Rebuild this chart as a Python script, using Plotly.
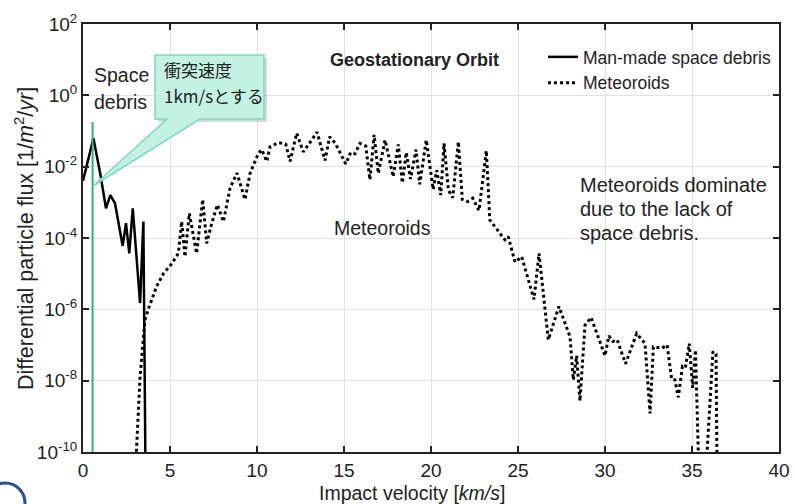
import plotly.graph_objects as go

# ---------------- data ----------------
debris_v = [0.0, 0.6, 1.0, 1.32, 1.57, 1.84, 2.28, 2.47, 2.66, 2.86, 3.28, 3.47, 3.6]
debris_flux = [4e-3, 6.3e-2, 6e-3, 6.8e-4, 1.6e-3, 9.3e-4, 6e-5, 2.6e-4, 3.7e-5, 6.8e-4, 1.5e-6, 2.9e-4, 1e-11]

meteor_v = [2.97, 3.28, 3.56, 3.75, 4.23, 4.62, 5.1, 5.48, 5.67, 5.86, 6.11, 6.53, 6.88, 7.11, 7.40,
            7.72, 8.07, 8.45, 8.85, 9.31, 9.60, 9.89, 10.07, 10.27, 10.56, 10.75, 11.23, 11.65, 11.9,
            12.28, 12.66, 12.98, 13.45, 13.91, 14.17, 14.5, 15.1, 15.38, 15.63, 15.92, 16.25, 16.49,
            16.73, 16.97, 17.36, 17.83, 18.12, 18.35, 18.58, 18.82, 19.14, 19.35, 19.73, 20.12, 20.33,
            20.56, 20.75, 21.0, 21.25, 21.57, 21.8, 22.1, 22.4, 22.76, 23.18, 23.38, 23.75, 24.25,
            24.44, 24.83, 25.21, 25.92, 26.21, 26.74, 27.35, 27.99, 28.18, 28.37, 28.56, 28.85, 29.2,
            30.0, 30.22, 30.45, 30.7, 31.18, 31.82, 32.3, 32.59, 32.78, 33.26, 33.57, 33.83, 34.02,
            34.21, 34.45, 34.62, 34.84, 35.04, 35.2, 35.42, 35.75, 36.2, 36.38, 36.45]
meteor_flux = [1e-11, 1.3e-8, 5.0e-7, 1.0e-6, 4.4e-6, 1.0e-5, 1.9e-5, 3.7e-5, 2.9e-4, 3.0e-5, 4.9e-4,
               3.7e-5, 1.2e-3, 7.1e-5, 2.6e-4, 8.5e-4, 2.9e-4, 2.5e-3, 6.6e-3, 1.2e-3, 6.5e-3, 1.4e-2,
               2.3e-2, 3.0e-2, 1.4e-2, 3.6e-2, 4.7e-2, 4.3e-2, 1.4e-2, 8.7e-2, 2.6e-2, 4.3e-2, 9.3e-2,
               1.5e-2, 6.9e-2, 4.5e-2, 1.2e-2, 2.5e-2, 2.3e-2, 4.5e-2, 3.8e-2, 4.3e-3, 7.8e-2, 6.5e-3,
               5.6e-2, 5.2e-3, 4.2e-2, 3.5e-3, 2.5e-2, 4.5e-3, 3.0e-2, 3.2e-3, 5.6e-2, 2.3e-3, 7.9e-3,
               1.6e-3, 4.5e-2, 2.2e-3, 1.35e-3, 5.0e-2, 1.2e-3, 1.05e-3, 1.3e-3, 5.9e-4, 2.8e-2, 3.2e-4,
               1.8e-4, 8.9e-5, 1.1e-4, 2.1e-5, 3.0e-5, 1.9e-6, 3.7e-5, 1.4e-7, 1.2e-6, 1.7e-7, 1.05e-8,
               5.0e-8, 2.7e-9, 3.6e-7, 5.9e-7, 5.0e-8, 1.8e-7, 1.26e-7, 1.4e-7, 3.0e-8, 2.1e-7, 1.1e-7,
               1.2e-9, 8.9e-8, 8.1e-8, 1.0e-7, 1.1e-8, 1.05e-8, 3.4e-9, 2.5e-8, 2.3e-8, 1.1e-7, 6.3e-9,
               7.2e-8, 1e-11, 1e-11, 6.5e-8, 5.6e-8, 1e-11]

impact_marker_v = 0.55   # green reference line (km/s)

x_tickvals = [0, 5, 10, 15, 20, 25, 30, 35, 40]
x_ticktext = ["0", "5", "10", "15", "20", "25", "30", "35", "40"]
y_tickvals = [1e2, 1e0, 1e-2, 1e-4, 1e-6, 1e-8, 1e-10]
y_ticktext = ["10<sup>2</sup>", "10<sup>0</sup>", "10<sup>-2</sup>", "10<sup>-4</sup>",
              "10<sup>-6</sup>", "10<sup>-8</sup>", "10<sup>-10</sup>"]

# ---------------- style ----------------
REG = "Liberation Sans, Arial, sans-serif"
CJK = "Noto Sans CJK JP, sans-serif"
TXT = "#222222"

W, H = 795, 504
PL, PR, PT, PB = 83, 16, 24, 52
PW, PH = W - PL - PR, H - PT - PB


def px(x):
    return (x - PL) / PW


def py(y):
    return (PT + PH - y) / PH


fig = go.Figure()
fig.add_trace(go.Scatter(x=debris_v, y=debris_flux, mode="lines", name="Man-made space debris",
                         line=dict(color="black", width=2.5)))
fig.add_trace(go.Scatter(x=meteor_v, y=meteor_flux, mode="lines", name="Meteoroids",
                         line=dict(color="black", width=3, dash="3px,3px")))

axis_common = dict(showgrid=True, gridcolor="#e2e2e2", gridwidth=1, showline=True,
                   linecolor="#222", linewidth=2, mirror="ticks", ticks="inside", ticklen=6,
                   tickwidth=1.5, tickcolor="#222", zeroline=False, automargin=False,
                   tickfont=dict(family=REG, size=19, color=TXT))

fig.update_layout(
    width=W, height=H, margin=dict(l=PL, r=PR, t=PT, b=PB),
    paper_bgcolor="white", plot_bgcolor="white",
    xaxis=dict(range=[0, 40], tickvals=x_tickvals, ticktext=x_ticktext, **axis_common),
    yaxis=dict(type="log", range=[-10, 2], tickvals=y_tickvals, ticktext=y_ticktext, **axis_common),
    legend=dict(x=px(543), y=py(39), xanchor="left", yanchor="top", bgcolor="rgba(0,0,0,0)",
                borderwidth=0, font=dict(family=REG, size=17.5, color=TXT), tracegroupgap=0),
    showlegend=True,
)

shapes = []
# white panel under the legend (hides grid lines there)
shapes.append(dict(type="rect", xref="paper", yref="paper", x0=px(530), x1=px(778),
                   y0=py(97), y1=py(25), fillcolor="white", line=dict(width=0), layer="between"))
# green reference line
shapes.append(dict(type="line", xref="x", yref="paper", x0=impact_marker_v, x1=impact_marker_v,
                   y0=0, y1=py(122), line=dict(color="#2db56e", width=2), layer="above"))
# callout balloon
bx0, bx1, by0, by1 = 155, 264, 55, 119
path = (f"M {px(bx0)},{py(by0)} L {px(bx1)},{py(by0)} L {px(bx1)},{py(by1)} "
        f"L {px(200)},{py(by1)} L {px(93)},{py(186)} L {px(167)},{py(by1)} "
        f"L {px(bx0)},{py(by1)} Z")
shadow = (f"M {px(bx0+3)},{py(by0+3)} L {px(bx1+3)},{py(by0+3)} L {px(bx1+3)},{py(by1+3)} "
          f"L {px(bx0+3)},{py(by1+3)} Z")
shapes.append(dict(type="path", xref="paper", yref="paper", path=shadow,
                   fillcolor="rgba(150,150,150,0.35)", line=dict(width=0), layer="above"))
shapes.append(dict(type="path", xref="paper", yref="paper", path=path,
                   fillcolor="#c3f2e3", line=dict(color="#7fd9bf", width=1.5), layer="above"))
# blue circle at bottom-left corner
shapes.append(dict(type="circle", xref="paper", yref="paper", x0=px(-15), x1=px(25),
                   y0=py(523), y1=py(483), line=dict(color="#2b4f8c", width=3)))
fig.update_layout(shapes=shapes)

ann = [
    dict(text="<b>Geostationary Orbit</b>", x=px(414), y=py(60), font=dict(family=REG, size=18)),
    dict(text="Space", x=px(92), y=py(75), xanchor="left", font=dict(family=REG, size=19.5)),
    dict(text="debris", x=px(92), y=py(102), xanchor="left", font=dict(family=REG, size=19.5)),
    dict(text="衝突速度", x=px(162), y=py(70), xanchor="left", font=dict(family=CJK, size=17)),
    dict(text="1km/sとする", x=px(162), y=py(95), xanchor="left", font=dict(family=CJK, size=17)),
    dict(text="Meteoroids", x=px(382), y=py(228), font=dict(family=REG, size=19.5)),
    dict(text="Meteoroids dominate", x=px(578), y=py(185), xanchor="left", font=dict(family=REG, size=20)),
    dict(text="due to the lack of", x=px(578), y=py(209), xanchor="left", font=dict(family=REG, size=20)),
    dict(text="space debris.", x=px(578), y=py(233), xanchor="left", font=dict(family=REG, size=20)),
    dict(text="Impact velocity [<i>km/s</i>]", x=px(412), y=py(493), font=dict(family=REG, size=19.5)),
    dict(text="Differential particle flux [1/<i>m</i><sup>2</sup>/<i>yr</i>]", x=px(24), y=py(239),
         textangle=-90, font=dict(family=REG, size=21.5)),
]
for a in ann:
    a.setdefault("xanchor", "center")
    a["font"].setdefault("color", TXT)
    fig.add_annotation(xref="paper", yref="paper", showarrow=False, yanchor="middle", **a)

fig.write_html("out.html", config={"displayModeBar": False},
               post_script="document.body.style.margin='0';document.body.style.overflow='hidden';")
